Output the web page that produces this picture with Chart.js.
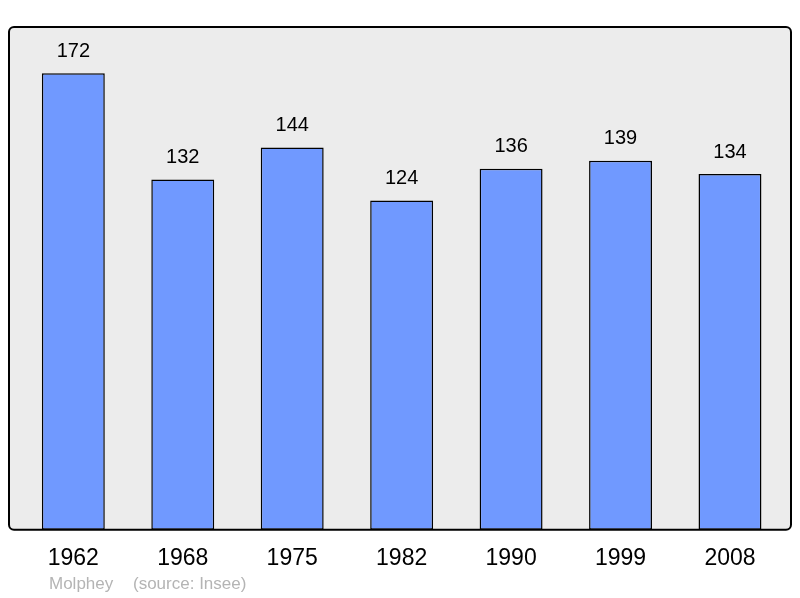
<!DOCTYPE html>
<html>
<head>
<meta charset="utf-8">
<script src="https://cdn.jsdelivr.net/npm/chart.js@4/dist/chart.umd.min.js"></script>
<style>
  html, body { margin:0; padding:0; background:#ffffff; }
  #wrap { width:800px; height:598px; }
</style>
</head>
<body>
<div id="wrap"><canvas id="popChart" width="800" height="598"></canvas></div>
<script>
// ===== Data =====
const years = ["1962","1968","1975","1982","1990","1999","2008"];
const population = [172,132,144,124,136,139,134];
const footerAuthor = "Molphey";
const footerSource = "(source: Insee)";

// ===== Frame behind / around the plot =====
const framePlugin = {
  id:"frame",
  beforeDraw(chart){
    const a = chart.chartArea, c = chart.ctx;
    c.save();
    c.beginPath();
    c.roundRect(a.left-9.6, a.top, (a.right+6.3)-(a.left-9.6), a.bottom-a.top, 5);
    c.fillStyle = "#ececec";
    c.fill();
    c.restore();
  },
  afterDatasetsDraw(chart){
    const a = chart.chartArea, c = chart.ctx;
    c.save();
    c.beginPath();
    c.roundRect(a.left-9.6, a.top, (a.right+6.3)-(a.left-9.6), a.bottom-a.top, 5);
    c.lineWidth = 2;
    c.strokeStyle = "#000000";
    c.stroke();

    // value labels above bars
    const meta = chart.getDatasetMeta(0);
    c.font = "20px 'Liberation Sans', Arial, sans-serif";
    c.fillStyle = "#000000";
    c.textAlign = "center";
    c.textBaseline = "middle";
    meta.data.forEach((bar,i)=>{
      c.fillText(String(population[i]), bar.x, bar.y-22);
    });

    // footer
    c.font = "17px 'Liberation Sans', Arial, sans-serif";
    c.fillStyle = "#b4b4b4";
    c.textAlign = "left";
    c.textBaseline = "alphabetic";
    c.fillText(footerAuthor, 49, 589);
    c.fillText(footerSource, 133, 589);
    c.restore();
  }
};

const ctx = document.getElementById("popChart").getContext("2d");

new Chart(ctx, {
  type:"bar",
  data:{
    labels:years,
    datasets:[{
      data:population,
      backgroundColor:"#7099ff",
      borderColor:"#000000",
      borderWidth:1.5,
      borderSkipped:false,
      barPercentage:0.575,
      categoryPercentage:1
    }]
  },
  options:{
    responsive:false,
    animation:false,
    layout:{ padding:{ left:18.6, right:15.3, top:27, bottom:9.6 } },
    plugins:{ legend:{display:false}, tooltip:{enabled:false} },
    scales:{
      x:{
        offset:true,
        grid:{display:false, drawTicks:false},
        border:{display:false},
        ticks:{
          color:"#000000",
          padding:15.5,
          font:{family:"'Liberation Sans', Arial, sans-serif", size:23}
        }
      },
      y:{
        display:false,
        min:0,
        max:189.4
      }
    }
  },
  plugins:[framePlugin]
});
</script>
</body>
</html>
